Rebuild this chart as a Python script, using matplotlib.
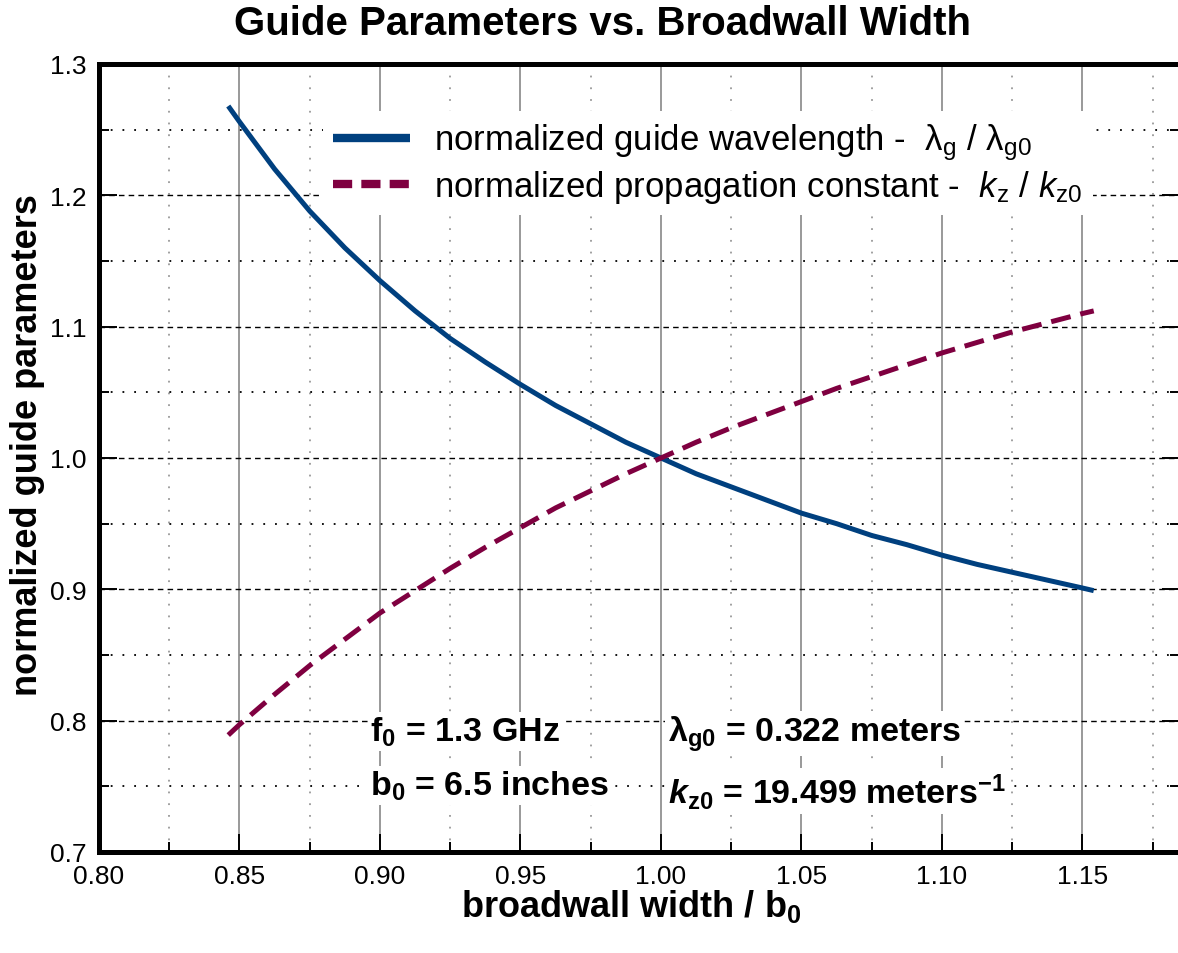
import numpy as np
import matplotlib
matplotlib.use("Agg")
import matplotlib.pyplot as plt
from matplotlib.lines import Line2D
from matplotlib.ticker import FormatStrFormatter, MultipleLocator

# --- Data ---
width_ratio = [0.846, 0.85, 0.8625, 0.875, 0.8875, 0.90, 0.9125, 0.925, 0.9375,
               0.95, 0.9625, 0.975, 0.9875, 1.00, 1.0125, 1.025, 1.0375, 1.05,
               1.0625, 1.075, 1.0875, 1.10, 1.1125, 1.125, 1.1375, 1.15, 1.154]
guide_wavelength = [1.268, 1.256, 1.220, 1.188, 1.160, 1.135, 1.112, 1.091, 1.073,
                    1.056, 1.040, 1.026, 1.012, 1.000, 0.988, 0.978, 0.968, 0.958,
                    0.950, 0.941, 0.934, 0.926, 0.919, 0.913, 0.907, 0.901, 0.899]
prop_constant = [0.789, 0.797, 0.820, 0.842, 0.862, 0.882, 0.899, 0.916, 0.932,
                 0.947, 0.962, 0.975, 0.988, 1.000, 1.012, 1.023, 1.033, 1.043,
                 1.053, 1.062, 1.071, 1.080, 1.088, 1.096, 1.103, 1.110, 1.112]

label_lam = r'normalized guide wavelength -  $\mathrm{\lambda}_{\mathrm{g}}$ / $\mathrm{\lambda}_{\mathrm{g0}}$'
label_kz = r'normalized propagation constant -  $k_{\mathrm{z}}$ / $k_{\mathrm{z0}}$'

BLUE = '#00407f'
MAROON = '#7f0040'

# --- Style ---
plt.rcParams['font.family'] = ['Liberation Sans', 'DejaVu Sans']
plt.rcParams['mathtext.fontset'] = 'custom'
plt.rcParams['mathtext.rm'] = 'Liberation Sans'
plt.rcParams['mathtext.it'] = 'Liberation Sans:italic'
plt.rcParams['mathtext.bf'] = 'Liberation Sans:bold'
plt.rcParams['mathtext.bfit'] = 'Liberation Sans:italic:bold'

fig = plt.figure(figsize=(11.78, 9.54), dpi=100)
ax = fig.add_axes([99 / 1178, 101 / 954, 1081 / 1178, 788 / 954])

ax.plot(width_ratio, guide_wavelength, color=BLUE, lw=3.6, solid_capstyle='butt', zorder=3)
ax.plot(width_ratio, prop_constant, color=MAROON, lw=3.6, dashes=(4, 2), zorder=3)

ax.set_xlim(0.80, 1.1847)
ax.set_ylim(0.7, 1.3)
ax.xaxis.set_major_locator(MultipleLocator(0.05))
ax.xaxis.set_minor_locator(MultipleLocator(0.025))
ax.yaxis.set_major_locator(MultipleLocator(0.1))
ax.yaxis.set_minor_locator(MultipleLocator(0.05))
ax.xaxis.set_major_formatter(FormatStrFormatter('%.2f'))
ax.yaxis.set_major_formatter(FormatStrFormatter('%.1f'))

# grid
ax.set_axisbelow(True)
ax.xaxis.grid(True, which='major', color='#999999', lw=1.4, ls='-')
ax.xaxis.grid(True, which='minor', color='#999999', lw=1.3, ls=(0, (1, 5.5)))
ax.yaxis.grid(True, which='major', color='black', lw=1.0, ls=(0, (4, 3)))
ax.yaxis.grid(True, which='minor', color='black', lw=1.3, ls=(0, (1, 5.5)))

ax.tick_params(which='both', direction='in', top=False, right=True,
               labelsize=19, width=1.4, colors='black')
ax.tick_params(which='major', length=13, pad=9)
ax.tick_params(which='minor', length=7)

for side in ['left', 'top', 'bottom']:
    ax.spines[side].set_linewidth(3.6)
ax.spines['right'].set_visible(False)

fig.text(603 / 1178, 1 - 24 / 954, 'Guide Parameters vs. Broadwall Width',
         fontsize=29, fontweight='bold', ha='center', va='center')
ax.set_xlabel(r'broadwall width / b$_{\mathbf{0}}$', fontsize=26, fontweight='bold')
ax.xaxis.set_label_coords(0.492, -0.044)
ax.set_ylabel('normalized guide parameters', fontsize=26, fontweight='bold')
ax.yaxis.set_label_coords(-0.05, 0.518)

# legend
handles = [Line2D([], [], color=BLUE, lw=6, solid_capstyle='butt'),
           Line2D([], [], color=MAROON, lw=6, dashes=(2.3, 1.1))]
leg = ax.legend(handles, [label_lam, label_kz], loc='upper left',
                bbox_to_anchor=(0.207, 0.94), fontsize=25, frameon=True,
                facecolor='white', edgecolor='none', framealpha=1,
                fancybox=False, borderpad=0.3, borderaxespad=0,
                handlelength=2.2, handletextpad=0.7, labelspacing=0.15)
leg.set_zorder(5)

# annotations
box = dict(facecolor='white', edgecolor='none', pad=2)
ax.text(0.8966, 0.7845, r'f$_{\mathbf{0}}$ = 1.3 GHz', fontsize=24.5,
        fontweight='bold', bbox=box, zorder=4)
ax.text(0.8966, 0.7435, r'b$_{\mathbf{0}}$ = 6.5 inches', fontsize=24.5,
        fontweight='bold', bbox=box, zorder=4)
ax.text(1.0025, 0.7845, r'$\mathbf{\lambda}_{\mathbf{g0}}$ = 0.322 meters', fontsize=24.5,
        fontweight='bold', bbox=box, zorder=4)
ax.text(1.0025, 0.7375, r'$\mathbfit{k}_{\mathbf{z0}}$ = 19.499 meters$^{\mathbf{-1}}$', fontsize=24.5,
        fontweight='bold', bbox=box, zorder=4)

fig.savefig('out.png', dpi=100)
